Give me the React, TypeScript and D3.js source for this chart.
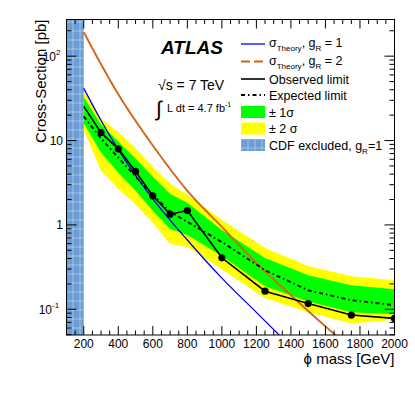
import React from 'react';
import * as d3 from 'd3';

// limits vs phi mass
const mass = [200, 300, 400, 500, 600, 700, 800, 1000, 1250, 1500, 1750, 2000];
const observed = [25.4, 12.4, 7.97, 4.31, 2.21, 1.34, 1.48, 0.408, 0.164, 0.117, 0.0855, 0.078];
const expected = [19.3, 10.6, 6.28, 3.73, 2.28, 1.43, 1.09, 0.627, 0.291, 0.168, 0.128, 0.112];
const oneSigUp = [32.5, 15.5, 9.73, 6.11, 3.73, 2.34, 1.83, 0.872, 0.405, 0.254, 0.193, 0.173];
const oneSigDn = [15.9, 7.2, 4.16, 2.54, 1.47, 0.896, 0.76, 0.428, 0.188, 0.124, 0.092, 0.0872];
const twoSigUp = [38.3, 18.3, 12.5, 8.03, 4.9, 3.08, 2.28, 1.15, 0.532, 0.325, 0.247, 0.221];
const twoSigDn = [13.2, 4.39, 2.68, 1.73, 1.06, 0.594, 0.547, 0.299, 0.135, 0.092, 0.0681, 0.075];

// theory curves
const thMass1 = [200, 300, 400, 600, 800, 1000, 1200, 1400];
const theory1 = [41.6, 17.3, 7.81, 2.04, 0.663, 0.234, 0.092, 0.036];
const thMass2 = [200, 300, 400, 600, 800, 1000, 1200, 1400, 1600, 1700];
const theory2 = [193, 80.3, 35.3, 8.72, 2.54, 0.946, 0.353, 0.147, 0.0628, 0.0416];

const xTicks = [200, 400, 600, 800, 1000, 1200, 1400, 1600, 1800, 2000];
const yTicks = [0.1, 1, 10, 100];
const yTickLabels = [['10', '-1'], ['1', ''], ['10', ''], ['10', '2']];

const W = 415, H = 399;
const L = 66.5, R = 394.5, T = 19.5, B = 335;
const font = 'Liberation Sans, Arial, Helvetica, sans-serif';

export default function App() {
  const x = d3.scaleLinear().domain([100, 2000]).range([L, R]);
  const y = d3.scaleLog().domain([0.0496, 272]).range([B, T]);

  const line = d3.line<[number, number]>().x(d => x(d[0])).y(d => y(d[1]));
  const smooth = d3.line<[number, number]>().x(d => x(d[0])).y(d => y(d[1])).curve(d3.curveMonotoneX);
  const band = (up: number[], dn: number[]) =>
    d3.area<number>().x((d, i) => x(mass[i])).y0((d, i) => y(dn[i])).y1((d, i) => y(up[i]))(mass);

  const obsPts = mass.map((m, i) => [m, observed[i]] as [number, number]);
  const expPts = mass.map((m, i) => [m, expected[i]] as [number, number]);
  const th1 = thMass1.map((m, i) => [m, theory1[i]] as [number, number]);
  const th2 = thMass2.map((m, i) => [m, theory2[i]] as [number, number]);

  // minor ticks
  const xMinor = d3.range(100, 2001, 50).filter(v => v % 200 !== 0);
  const yMinor: number[] = [];
  [0.01, 0.1, 1, 10, 100].forEach(dec => {
    for (let k = 2; k <= 9; k++) {
      const v = dec * k;
      if (v > 0.0496 && v < 272) yMinor.push(v);
    }
  });

  const lx = 241, lx2 = 265, tx = 269;
  const legY = [44, 61.5, 79, 95, 112, 128.5, 145];

  return (
    <svg width={W} height={H} style={{ position: 'absolute', left: 0, top: 0, background: '#fff' }}
      fontFamily={font}>
      <defs>
        <clipPath id="plot">
          <rect x={L} y={T} width={R - L} height={B - T} />
        </clipPath>
        <pattern id="cdf" width="7" height="9" patternUnits="userSpaceOnUse">
          <rect width="7" height="9" fill="#6c9dd4" />
          <line x1="3" y1="0" x2="3" y2="9" stroke="#fff" strokeOpacity="0.45" strokeWidth="0.8" />
          <line x1="0" y1="4" x2="7" y2="4" stroke="#fff" strokeOpacity="0.45" strokeWidth="0.8" />
        </pattern>
      </defs>

      <g clipPath="url(#plot)">
        <path d={band(twoSigUp, twoSigDn) || ''} fill="#ffff00" />
        <path d={band(oneSigUp, oneSigDn) || ''} fill="#00ff00" />
        <rect x={x(100)} y={T} width={x(200) - x(100)} height={B - T} fill="url(#cdf)" />
        <path d={smooth(th1) || ''} fill="none" stroke="#0000ee" strokeWidth={1.3} />
        <path d={smooth(th2) || ''} fill="none" stroke="#cc6611" strokeWidth={1.9} />
        <path d={smooth(th2) || ''} fill="none" stroke="#ff7070" strokeWidth={0.5} strokeDasharray="8,8" />
        <path d={line(expPts) || ''} fill="none" stroke="#000" strokeWidth={1.8} strokeDasharray="4,3,1.5,3" />
        <path d={line(obsPts) || ''} fill="none" stroke="#000" strokeWidth={1.6} />
        {obsPts.slice(1).map((p, i) => (
          <circle key={i} cx={x(p[0])} cy={y(p[1])} r={3.6} fill="#000" />
        ))}
      </g>

      {/* frame */}
      <rect x={L} y={T} width={R - L} height={B - T} fill="none" stroke="#000" strokeWidth={1} />

      {/* x ticks */}
      {xTicks.map(v => (
        <g key={'xt' + v}>
          <line x1={x(v)} x2={x(v)} y1={B} y2={B - 9} stroke="#000" />
          <line x1={x(v)} x2={x(v)} y1={T} y2={T + 9} stroke="#000" />
          <text x={x(v)} y={B + 13} fontSize={12} textAnchor="middle">{v}</text>
        </g>
      ))}
      {xMinor.map(v => (
        <g key={'xm' + v}>
          <line x1={x(v)} x2={x(v)} y1={B} y2={B - 4.5} stroke="#000" />
          <line x1={x(v)} x2={x(v)} y1={T} y2={T + 4.5} stroke="#000" />
        </g>
      ))}

      {/* y ticks */}
      {yTicks.map((v, i) => (
        <g key={'yt' + v}>
          <line x1={L} x2={L + 10} y1={y(v)} y2={y(v)} stroke="#000" />
          <line x1={R} x2={R - 10} y1={y(v)} y2={y(v)} stroke="#000" />
          <text x={yTickLabels[i][1] ? 60 - yTickLabels[i][1].length * 4 : 63} y={y(v) + 4.5} fontSize={12} textAnchor="end">
            {yTickLabels[i][0]}
          </text>
          {yTickLabels[i][1] && (
            <text x={60 - yTickLabels[i][1].length * 4} y={y(v) - 1} fontSize={8}>{yTickLabels[i][1]}</text>
          )}
        </g>
      ))}
      {yMinor.map(v => (
        <g key={'ym' + v}>
          <line x1={L} x2={L + 5} y1={y(v)} y2={y(v)} stroke="#000" />
          <line x1={R} x2={R - 5} y1={y(v)} y2={y(v)} stroke="#000" />
        </g>
      ))}

      {/* axis titles */}
      <text x={R} y={364} fontSize={15} textAnchor="end">ϕ mass [GeV]</text>
      <text transform={`translate(46,${T}) rotate(-90)`} fontSize={15} textAnchor="end">Cross-Section [pb]</text>

      {/* labels */}
      <text x={161} y={54} fontSize={19} fontWeight="bold" fontStyle="italic">ATLAS</text>
      <text x={158} y={90} fontSize={14}>√s = 7 TeV</text>
      <text x={156} y={116} fontSize={21}>∫</text>
      <text x={167} y={112} fontSize={11}>L dt = 4.7 fb<tspan fontSize={7} dy={-5}>-1</tspan></text>

      {/* legend */}
      <line x1={lx} x2={lx2} y1={legY[0]} y2={legY[0]} stroke="#0000ee" strokeWidth={1.3} />
      <line x1={lx} x2={lx2} y1={legY[1]} y2={legY[1]} stroke="#cc6611" strokeWidth={2} strokeDasharray="9,4" />
      <line x1={lx} x2={lx2} y1={legY[2]} y2={legY[2]} stroke="#000" strokeWidth={1.6} />
      <line x1={lx} x2={lx2} y1={legY[3]} y2={legY[3]} stroke="#000" strokeWidth={1.8} strokeDasharray="4,3,1.5,3" />
      <rect x={lx} y={legY[4] - 6} width={lx2 - lx} height={12} fill="#00ff00" />
      <rect x={lx} y={legY[5] - 6} width={lx2 - lx} height={12} fill="#ffff00" />
      <rect x={lx} y={legY[6] - 6} width={lx2 - lx} height={12} fill="url(#cdf)" />

      <g fontSize={12.5}>
        <text x={tx} y={legY[0] + 3}>σ<tspan fontSize={8} dy={4}>Theory</tspan><tspan dy={-4}>, g</tspan><tspan fontSize={8} dy={4}>R</tspan><tspan dy={-4}> = 1</tspan></text>
        <text x={tx} y={legY[1] + 3}>σ<tspan fontSize={8} dy={4}>Theory</tspan><tspan dy={-4}>, g</tspan><tspan fontSize={8} dy={4}>R</tspan><tspan dy={-4}> = 2</tspan></text>
        <text x={tx} y={legY[2] + 4.5}>Observed limit</text>
        <text x={tx} y={legY[3] + 4.5}>Expected limit</text>
        <text x={tx} y={legY[4] + 4.5}>± 1σ</text>
        <text x={tx} y={legY[5] + 4.5}>± 2 σ</text>
        <text x={tx} y={legY[6] + 4.5}>CDF excluded, g<tspan fontSize={8} dy={4}>R</tspan><tspan dy={-4}>=1</tspan></text>
      </g>
    </svg>
  );
}
